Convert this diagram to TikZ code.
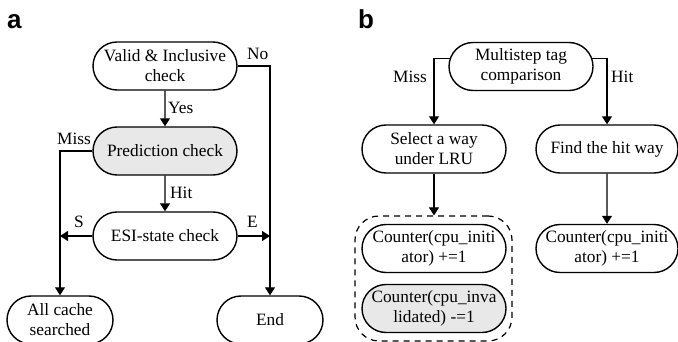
\documentclass[tikz,border=0pt]{standalone}
\usepackage{fontspec}
\setmainfont{Liberation Serif}
\newfontfamily\labelfont{Liberation Sans}
\usetikzlibrary{shapes.misc,arrows.meta,calc}
\begin{document}
\begin{tikzpicture}[x=1pt,y=-1pt,
  box/.style={rounded rectangle, draw, line width=1.4pt, fill=white, minimum width=144pt, minimum height=48pt, inner sep=0pt, align=center, font=\fontsize{17.3}{20}\selectfont},
  grey/.style={fill=black!9},
  conn/.style={line width=1.2pt},
  arr/.style={conn, -{Triangle[length=8pt,width=10pt]}},
  lbl/.style={font=\fontsize{17.3}{20}\selectfont, inner sep=0pt, anchor=base west},
  panel/.style={font=\labelfont\bfseries\fontsize{26}{26}\selectfont, inner sep=0pt, anchor=base west},
  group/.style={draw, dashed, dash pattern=on 6pt off 5pt, rounded corners=24pt, line width=1.2pt, minimum width=157pt, minimum height=125pt, inner sep=0pt}
]
\useasboundingbox (0,0) rectangle (678,342);

% panel labels
\node[panel] (pa) at (7,29) {a};
\node[panel] (pb) at (358,29) {b};

% ---------- panel a ----------
\node[box] (va) at (165,66) {Valid \& Inclusive\\check};
\node[box,grey] (pc) at (165,151) {Prediction check};
\node[box] (esi) at (165,236) {ESI-state check};
\node[box,minimum width=106pt] (acs) at (60,320) {All cache\\searched};
\node[box,minimum width=106pt] (end) at (270,320) {End};

\coordinate (missa) at (60,151);
\coordinate (noa) at (270,66);

\draw[arr] (va) -- (pc);
\draw[arr] (pc) -- (esi);
\draw[arr] (pc.west) -- (missa) -- (acs.north);
\draw[arr] (va.east) -- (noa) -- (end.north);
\draw[arr] (esi.west) -- (esi.west -| acs.north);
\draw[arr] (esi.east) -- (esi.east -| end.north);

\node[lbl] (lyes) at (168,114) {Yes};
\node[lbl] (lhit) at (170,199) {Hit};
\node[lbl] (lmiss) at (57,145) {Miss};
\node[lbl] (lno) at (247,60) {No};
\node[lbl] (ls) at (74,228) {S};
\node[lbl] (le) at (247,228) {E};

% ---------- panel b ----------
\node[box] (mts) at (521,66.5) {Multistep tag\\comparison};
\node[box] (sel) at (434,149) {Select a way\\under LRU};
\node[box,minimum width=142pt] (find) at (607,149) {Find the hit way};
\node[group] (grp) at (433.5,278.5) {};
\node[box] (ci1) at (434,248.5) {Counter(cpu\_initi\\ator) +=1};
\node[box,grey] (cinv) at (434,308.5) {Counter(cpu\_inva\\lidated) -=1};
\node[box,minimum width=142pt] (ci2) at (607,248.5) {Counter(cpu\_initi\\ator) +=1};

\coordinate (mL) at ($(mts.west)+(1.4,-8)$);
\coordinate (mR) at ($(mts.east)+(-1.4,-8)$);

\draw[arr] (mL) -- (mL -| sel.north) -- (sel.north);
\draw[arr] (mR) -- (mR -| find.north) -- (find.north);
\draw[arr] (sel.south) -- (sel.south |- grp.north);
\draw[arr] (find) -- (ci2);

\node[lbl] (lmissb) at (393,83) {Miss};
\node[lbl] (lhitb) at (611,83) {Hit};
\end{tikzpicture}
\end{document}
